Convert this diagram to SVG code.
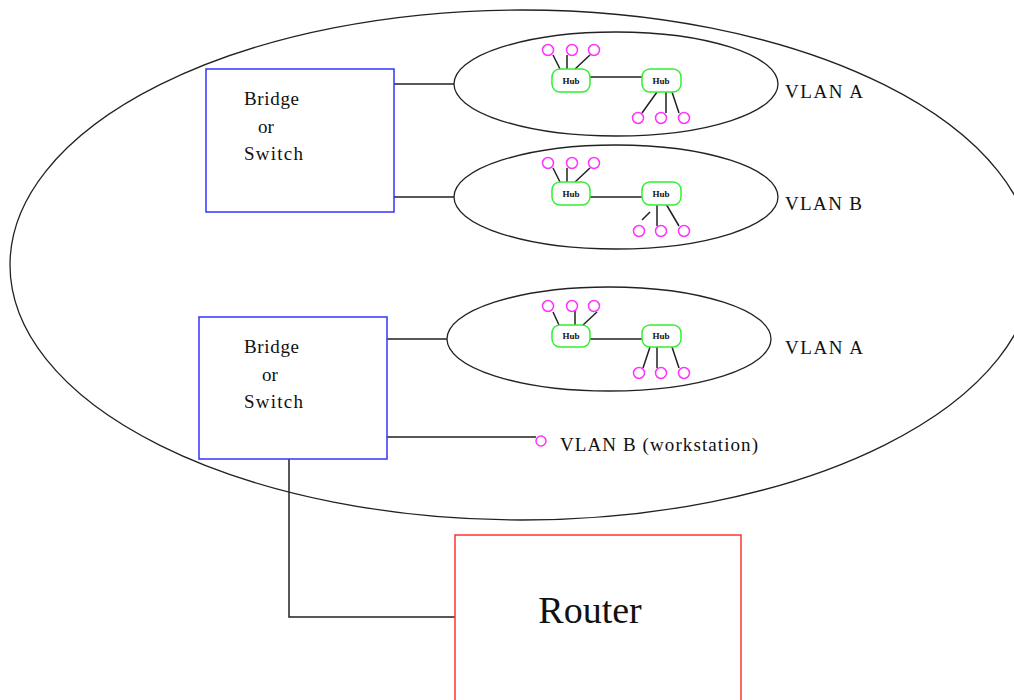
<svg xmlns="http://www.w3.org/2000/svg" width="1014" height="700" viewBox="0 0 1014 700">
<style>
.ln{stroke:#222;stroke-width:1.5;fill:none}
.el{stroke:#222;stroke-width:1.3;fill:none}
.hub{stroke:#33ee33;stroke-width:1.5;fill:#fff}
.ws{stroke:#ff33ff;stroke-width:1.5;fill:#fff}
.t{font-family:"Liberation Serif","DejaVu Serif",serif;font-size:19px;fill:#111}
.ht{font-family:"Liberation Serif","DejaVu Serif",serif;font-size:9px;font-weight:bold;fill:#111;text-anchor:middle}
</style>
<rect width="1014" height="700" fill="#fff"/>
<g id="campus"><ellipse class="el" cx="522" cy="265" rx="512" ry="255"/></g>
<g id="connectors">
<path class="ln" d="M394 84H454M394 197H454M387 339H447M387 437H536M289 459V617H455"/>
<path class="ln" d="M590 77H642M553 55L560 69M567 55V69M590 55L575 69M657 92L642 113M666 92V113M672 92L679 113"/>
<path class="ln" d="M590 197H642M553 168L560 182M567 168V182M590 168L575 182M650 212L642 220M657 205V226M666 204L679 226"/>
<path class="ln" d="M590 339H642M553 312L559 325M575 311V325M597 312L583 325M650 347L643 368M657 347V368M672 347L679 368"/>
</g>
<g id="switch1">
<rect x="206" y="69" width="188" height="143" fill="none" stroke="#3333ff" stroke-width="1.5"/>
<text class="t" x="244" y="105" textLength="55">Bridge</text>
<text class="t" x="258" y="133">or</text>
<text class="t" x="244" y="160" textLength="59">Switch</text>
</g>
<g id="switch2">
<rect x="199" y="317" width="188" height="142" fill="none" stroke="#3333ff" stroke-width="1.5"/>
<text class="t" x="244" y="353" textLength="55">Bridge</text>
<text class="t" x="262" y="381">or</text>
<text class="t" x="244" y="408" textLength="59">Switch</text>
</g>
<g id="router">
<rect x="455" y="535" width="286" height="170" fill="none" stroke="#ff3333" stroke-width="1.5"/>
<text class="t" x="590" y="623" style="font-size:38px" text-anchor="middle">Router</text>
</g>
<g id="vlanA1">
<ellipse class="el" cx="616" cy="84" rx="162" ry="52"/>
<rect class="hub" x="552" y="69" width="38" height="23" rx="8"/>
<text class="ht" x="571" y="84">Hub</text>
<rect class="hub" x="642" y="69" width="39" height="23" rx="8"/>
<text class="ht" x="661" y="84">Hub</text>
<circle class="ws" cx="548" cy="50" r="5.5"/><circle class="ws" cx="572" cy="50" r="5.5"/><circle class="ws" cx="594" cy="50" r="5.5"/>
<circle class="ws" cx="638" cy="118" r="5.5"/><circle class="ws" cx="661" cy="118" r="5.5"/><circle class="ws" cx="684" cy="118" r="5.5"/>
<text class="t" x="785" y="98" textLength="78">VLAN A</text>
</g>
<g id="vlanB1">
<ellipse class="el" cx="616" cy="197" rx="162" ry="52"/>
<rect class="hub" x="552" y="182" width="38" height="23" rx="8"/>
<text class="ht" x="571" y="197">Hub</text>
<rect class="hub" x="642" y="182" width="39" height="23" rx="8"/>
<text class="ht" x="661" y="197">Hub</text>
<circle class="ws" cx="548" cy="163" r="5.5"/><circle class="ws" cx="572" cy="163" r="5.5"/><circle class="ws" cx="594" cy="163" r="5.5"/>
<circle class="ws" cx="639" cy="231" r="5.5"/><circle class="ws" cx="661" cy="231" r="5.5"/><circle class="ws" cx="684" cy="231" r="5.5"/>
<text class="t" x="785" y="210" textLength="77">VLAN B</text>
</g>
<g id="vlanA2">
<ellipse class="el" cx="609" cy="339" rx="162" ry="52"/>
<rect class="hub" x="552" y="325" width="38" height="22" rx="8"/>
<text class="ht" x="571" y="339">Hub</text>
<rect class="hub" x="642" y="325" width="39" height="22" rx="8"/>
<text class="ht" x="661" y="339">Hub</text>
<circle class="ws" cx="548" cy="306" r="5.5"/><circle class="ws" cx="572" cy="306" r="5.5"/><circle class="ws" cx="594" cy="306" r="5.5"/>
<circle class="ws" cx="639" cy="373" r="5.5"/><circle class="ws" cx="661" cy="373" r="5.5"/><circle class="ws" cx="684" cy="373" r="5.5"/>
<text class="t" x="785" y="354" textLength="78">VLAN A</text>
</g>
<g id="vlanB2">
<circle class="ws" cx="541" cy="441" r="5"/>
<text class="t" x="560" y="451" textLength="198">VLAN B (workstation)</text>
</g>
</svg>
